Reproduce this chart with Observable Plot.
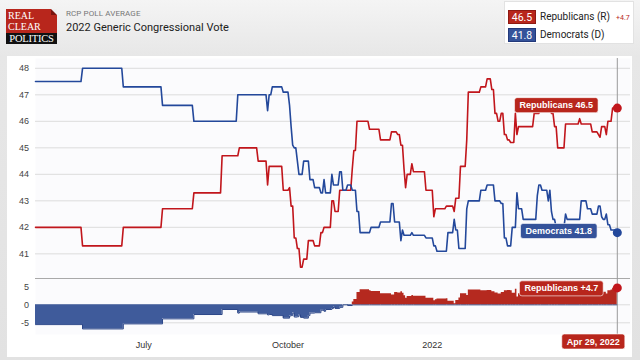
<!DOCTYPE html>
<html><head><meta charset="utf-8">
<script src="https://cdn.jsdelivr.net/npm/d3@7"></script>
<script src="https://cdn.jsdelivr.net/npm/@observablehq/plot@0.6"></script>
<style>
html,body{margin:0;padding:0;}
body{width:640px;height:360px;overflow:hidden;position:relative;background:linear-gradient(#f4f4f4 0,#e7e7e7 56px,#e2e2e2 100%);font-family:Roboto,"Liberation Sans",sans-serif;}
#logo-red{position:absolute;left:6px;top:9px;width:51px;height:24px;background:#b8261c;color:#fff;font-family:"Liberation Serif",serif;font-size:10px;line-height:11px;padding:0;overflow:hidden;}
#logo-red span{position:absolute;left:2px;letter-spacing:0px;height:11px;line-height:11px;}
#fold{position:absolute;right:0;top:0;width:0;height:0;border-style:solid;border-width:3px;border-color:#efefef #efefef #7a150f #7a150f;}
#logo-blk{position:absolute;left:6px;top:33px;width:51px;height:11px;background:#111;color:#fff;font-family:"Liberation Serif",serif;font-size:10.5px;line-height:11px;text-align:center;letter-spacing:-0.2px;overflow:hidden;}
#sub{position:absolute;left:66px;top:9px;font-size:8px;color:#777;letter-spacing:0.1px;}
#title{position:absolute;left:66px;top:21px;font-size:11px;color:#222;}
#legend{position:absolute;left:504px;top:1px;width:130px;height:43px;background:#fff;border:1px solid #e2e2e2;box-sizing:border-box;}
.badge{position:absolute;left:3px;width:28px;height:14px;line-height:14px;text-align:center;color:#fff;font-size:10.5px;box-sizing:border-box;}
.ltxt{position:absolute;left:35px;height:14px;line-height:14px;font-size:10px;color:#222;}
#chg{position:absolute;left:111px;top:9px;height:14px;line-height:14px;font-size:7px;color:#b8261c;}
#card{position:absolute;left:7px;top:56px;width:625px;height:301px;background:#fff;}
.plotwrap{position:absolute;left:0;}
</style>
</head><body>
<div id="logo-red"><span style="top:0.5px">REAL</span><span style="top:12px">CLEAR</span><div id="fold"></div></div>
<div id="logo-blk">POLITICS</div>
<div id="sub">RCP POLL AVERAGE</div>
<div id="title">2022 Generic Congressional Vote</div>
<div id="legend">
  <div class="badge" id="bR" style="top:8px;background:#b8261c;border:1px solid #8e1a12"></div>
  <div class="ltxt" style="top:8px">Republicans (R)</div>
  <div id="chg"></div>
  <div class="badge" id="bD" style="top:25.5px;background:#34529a;border:1px solid #22397a"></div>
  <div class="ltxt" style="top:25.5px">Democrats (D)</div>
</div>
<div id="card"></div>
<div class="plotwrap" id="top" style="top:56px"></div>
<div class="plotwrap" id="bot" style="top:278px"></div>
<script>
// ---- data ----
const repDates = ["2021-04-23","2021-05-23","2021-06-18","2021-07-13","2021-08-02","2021-08-20","2021-08-31","2021-09-12","2021-09-18","2021-09-19","2021-09-28","2021-10-02","2021-10-03","2021-10-05","2021-10-07","2021-10-09","2021-10-11","2021-10-14","2021-10-18","2021-10-22","2021-10-24","2021-10-29","2021-10-31","2021-11-03","2021-11-11","2021-11-12","2021-11-14","2021-11-22","2021-11-29","2021-12-06","2021-12-10","2021-12-12","2021-12-14","2021-12-15","2021-12-16","2021-12-19","2021-12-20","2021-12-28","2022-01-02","2022-01-03","2022-01-10","2022-01-15","2022-01-16","2022-01-19","2022-01-23","2022-01-24","2022-02-01","2022-02-05","2022-02-08","2022-02-10","2022-02-12","2022-02-14","2022-02-16","2022-02-18","2022-02-20","2022-02-23","2022-02-24","2022-02-25","2022-03-07","2022-03-11","2022-03-18","2022-03-20","2022-03-22","2022-03-27","2022-04-05","2022-04-06","2022-04-13","2022-04-17","2022-04-18","2022-04-19","2022-04-22","2022-04-23","2022-04-26","2022-04-29"];
const repValues = [42.0,41.3,42.0,42.7,43.3,44.7,45.0,44.5,43.6,44.3,43.4,43.5,42.8,41.6,41.2,40.5,40.8,41.5,41.3,41.8,42.0,43.0,42.6,43.4,44.2,44.9,46.0,45.7,45.3,45.6,45.5,45.1,44.2,43.5,44.0,44.4,44.1,43.4,42.4,42.7,42.8,42.6,43.1,44.3,45.3,47.1,47.3,47.6,47.2,46.3,46.0,46.3,45.5,45.3,45.2,46.3,45.5,45.8,46.3,46.5,46.3,45.8,45.0,45.9,46.1,45.9,45.6,45.5,45.4,45.8,45.5,46.0,46.5,46.5];
const demDates = ["2021-04-23","2021-05-23","2021-06-18","2021-07-13","2021-08-02","2021-08-30","2021-09-18","2021-09-19","2021-09-21","2021-09-28","2021-10-02","2021-10-03","2021-10-04","2021-10-05","2021-10-07","2021-10-08","2021-10-11","2021-10-15","2021-10-18","2021-10-22","2021-10-24","2021-10-25","2021-10-29","2021-10-30","2021-11-03","2021-11-05","2021-11-08","2021-11-11","2021-11-14","2021-11-16","2021-11-23","2021-11-29","2021-12-06","2021-12-08","2021-12-12","2021-12-13","2021-12-14","2021-12-19","2021-12-20","2021-12-28","2022-01-02","2022-01-04","2022-01-11","2022-01-15","2022-01-16","2022-01-18","2022-01-23","2022-01-24","2022-02-01","2022-02-05","2022-02-10","2022-02-14","2022-02-16","2022-02-18","2022-02-21","2022-02-24","2022-02-25","2022-02-28","2022-03-09","2022-03-10","2022-03-12","2022-03-16","2022-03-17","2022-03-18","2022-03-19","2022-03-21","2022-03-27","2022-03-28","2022-04-06","2022-04-10","2022-04-13","2022-04-17","2022-04-19","2022-04-20","2022-04-22","2022-04-23","2022-04-25","2022-04-29"];
const demValues = [47.5,48.0,47.3,46.6,46.0,47.0,46.4,47.0,47.3,47.1,46.6,45.8,45.1,45.0,44.5,44.0,44.5,43.8,43.5,43.3,43.8,43.3,44.0,43.6,44.1,43.4,43.6,43.4,42.6,41.8,42.0,42.2,42.9,42.2,41.5,41.9,41.7,41.8,41.7,41.6,41.3,41.1,41.8,42.3,41.9,41.2,42.7,43.0,43.4,43.6,43.0,42.9,41.6,41.3,42.0,43.3,42.7,42.3,43.2,43.6,43.4,43.0,43.4,42.6,42.3,42.0,42.5,42.3,43.0,42.7,42.5,42.8,42.4,42.3,42.5,42.1,41.9,41.8];
const yTicks = [41,42,43,44,45,46,47,48];
const spreadTicks = [-5,0,5];
const xTickDates = ["2021-07-01","2021-10-01","2022-01-01"];

// ---- derived tables ----
const RED = "#c1161c", BLUE = "#23489b";
const RED_FILL = "#b5291f", BLUE_FILL = "#3f5b9b";
const LBL_RED = "#b8261c", LBL_BLUE = "#34529a";
const rep = repDates.map((d,i)=>({date:new Date(d), value:repValues[i]}));
const dem = demDates.map((d,i)=>({date:new Date(d), value:demValues[i]}));
// daily series: each value holds until the day before the next change
function daily(arr){
  const out = [];
  arr.forEach((p,i)=>{
    if (i>0){ const prev = arr[i-1]; const hold = new Date(p.date.getTime()-864e5); if (hold > prev.date) out.push({date:hold, value:prev.value}); }
    out.push(p);
  });
  return out;
}
function valueAt(dates, vals, ds){ let v = vals[0]; for (let i=0;i<dates.length;i++){ if (dates[i] <= ds) v = vals[i]; } return v; }
const allDates = Array.from(new Set([...repDates, ...demDates])).sort();
const spread = allDates.map(ds => ({date:new Date(ds), value:+(valueAt(repDates,repValues,ds)-valueAt(demDates,demValues,ds)).toFixed(1)}));
const lastRep = rep[rep.length-1], lastDem = dem[dem.length-1], lastSpread = spread[spread.length-1];
const endDate = lastRep.date;

document.getElementById("bR").textContent = lastRep.value.toFixed(1);
document.getElementById("bD").textContent = lastDem.value.toFixed(1);
document.getElementById("chg").textContent = (lastSpread.value>=0?"+":"") + lastSpread.value.toFixed(1);

const xScale = {type:"utc", domain:[new Date("2021-04-23"), new Date("2022-05-07T10:00")]};
const style = {fontFamily:"'Liberation Sans', Arial, sans-serif", fontSize:"9px", color:"#444", background:"transparent", overflow:"visible"};
const monthFmt = d3.utcFormat("%B"), yearFmt = d3.utcFormat("%Y"), dateFmt = d3.utcFormat("%b %-d, %Y");

const topPlot = Plot.plot({
  width:640, height:222, marginLeft:35, marginRight:10, marginTop:2, marginBottom:0,
  style,
  x:{...xScale, axis:null, label:null},
  y:{domain:[40.07,48.37], label:null},
  marks:[
    Plot.frame({fill:"#fbfbfd", stroke:null}),
    Plot.gridY(yTicks, {stroke:"#dcdcdc", strokeOpacity:1}),
    Plot.axisY(yTicks, {tickSize:0, tickPadding:6.5, fill:"#444", label:null}),
    Plot.ruleX([endDate], {stroke:"#9a9a9a"}),
    Plot.line(daily(rep), {x:"date", y:"value", stroke:RED, strokeWidth:1.6}),
    Plot.line(daily(dem), {x:"date", y:"value", stroke:BLUE, strokeWidth:1.6}),
    Plot.dot([lastRep], {x:"date", y:"value", r:4.5, fill:RED}),
    Plot.dot([lastDem], {x:"date", y:"value", r:4.5, fill:BLUE}),
    Plot.text([lastRep], {x:"date", y:"value", text:d=>`Republicans ${d.value.toFixed(1)}`, dx:-61, dy:-2.8, fill:"white", fontWeight:"bold", fontSize:9}),
    Plot.text([lastDem], {x:"date", y:"value", text:d=>`Democrats ${d.value.toFixed(1)}`, dx:-58.5, dy:-1.5, fill:"white", fontWeight:"bold", fontSize:9})
  ]
});

const spreadDomain = [-8.25, 7.31];
const botPlot = Plot.plot({
  width:640, height:80, marginLeft:35, marginRight:10, marginTop:0, marginBottom:24,
  style,
  x:{...xScale, label:null},
  y:{domain:spreadDomain, label:null},
  marks:[
    Plot.frame({fill:"#fbfbfd", stroke:null}),
    Plot.gridY([-5,0], {stroke:"#dcdcdc", strokeOpacity:1}),
    Plot.ruleY([spreadDomain[1]], {stroke:"#a9a9a9"}),
    Plot.axisY(spreadTicks, {tickSize:0, tickPadding:6.5, tickFormat:d=>String(d), fill:"#444", label:null}),
    Plot.axisX(xTickDates.map(d=>new Date(d)), {tickSize:0, tickPadding:7, tickFormat:d=>d.getUTCMonth()===0?yearFmt(d):monthFmt(d), fill:"#333", label:null}),
    Plot.areaY(spread, {x:"date", y1:0, y2:d=>Math.min(d.value,0), curve:"step-after", fill:BLUE_FILL}),
    Plot.lineY(spread, {x:"date", y:d=>Math.min(d.value,0), curve:"step-after", stroke:"#2b4688", strokeWidth:1}),
    Plot.areaY(spread, {x:"date", y1:0, y2:d=>Math.max(d.value,0), curve:"step-after", fill:RED_FILL}),
    Plot.ruleX([endDate], {stroke:"#9a9a9a"}),
    Plot.dot([lastSpread], {x:"date", y:"value", r:4.5, fill:RED}),
    Plot.text([lastSpread], {x:"date", y:"value", text:d=>`Republicans ${d.value>=0?"+":""}${d.value.toFixed(1)}`, dx:-56, dy:0.6, fill:"white", fontWeight:"bold", fontSize:9}),
    Plot.text([endDate], {x:d=>d, frameAnchor:"bottom", text:d=>dateFmt(d), dx:-24, dy:10, fill:"white", fontWeight:"bold", fontSize:9})
  ]
});

document.getElementById("top").appendChild(topPlot);
document.getElementById("bot").appendChild(botPlot);

function boxLabels(svg, colors){
  const gs = svg.querySelectorAll('g[aria-label="text"]');
  gs.forEach((g,k)=>{
    g.querySelectorAll("text").forEach(t=>{
      const b = t.getBBox();
      const r = document.createElementNS("http://www.w3.org/2000/svg","rect");
      r.setAttribute("x", b.x-5); r.setAttribute("y", b.y-2.5);
      r.setAttribute("width", b.width+10); r.setAttribute("height", b.height+5);
      r.setAttribute("rx", 2.5); r.setAttribute("fill", colors[k]);
      r.setAttribute("stroke", "rgba(255,255,255,0.6)");
      const tr = t.getAttribute("transform"); if (tr) r.setAttribute("transform", tr);
      t.parentNode.insertBefore(r, t);
    });
  });
}
boxLabels(topPlot, [LBL_RED, LBL_BLUE]);
boxLabels(botPlot, [LBL_RED, LBL_RED]);
</script>
</body></html>
